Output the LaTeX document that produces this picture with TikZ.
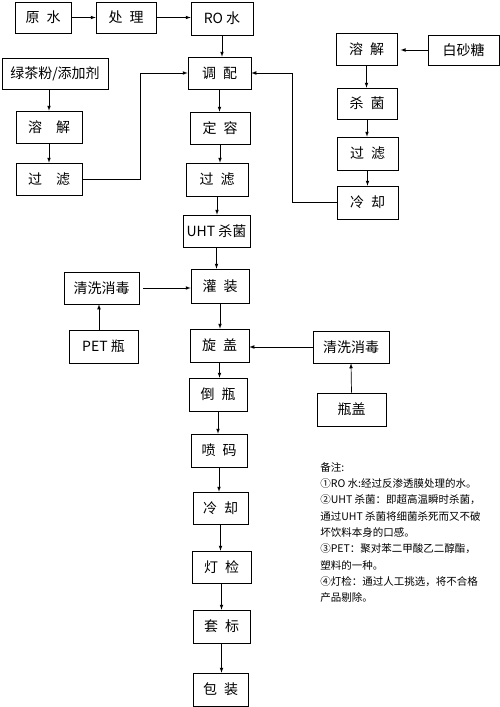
\documentclass[tikz,border=0pt]{standalone}
\usepackage{fontspec}
\setmainfont{Noto Sans CJK SC}
\usepackage{tikz}

\newcommand{\cjkgap}{\hspace{.5em}}

\begin{document}
\begin{tikzpicture}[x=1pt, y=-1pt, >=latex, line width=0.7pt,
    box/.style 2 args={draw, minimum width=#1, minimum height=#2, inner sep=0pt,
        font=\fontsize{14}{16}\selectfont},
    note/.style={anchor=north west, inner sep=0pt, align=left,
        font=\fontsize{10.5}{16.3}\selectfont}]
    \useasboundingbox (0,0) rectangle (500,707);

    % water line
    \node[box={56}{31}] (yuanshui) at (43, 17.5) {原\cjkgap 水};
    \node[box={60}{31}] (chuli) at (126, 17.5) {处\cjkgap 理};
    \node[box={62}{33}] (ro) at (222, 18.5) {RO 水};

    % main line
    \node[box={63}{32}] (tiaopei) at (219.5, 73) {调\cjkgap 配};
    \node[box={60}{32}] (dingrong) at (220, 128) {定\cjkgap 容};
    \node[box={62}{33}] (guolv) at (217, 179.5) {过\cjkgap 滤};
    \node[box={67}{32}] (uht) at (216.5, 231) {UHT 杀菌};
    \node[box={58}{34}] (guanzhuang) at (220, 286) {灌\cjkgap 装};
    \node[box={59}{33}] (xuangai) at (219.5, 345.5) {旋\cjkgap 盖};
    \node[box={58}{33}] (daoping) at (218, 394.5) {倒\cjkgap 瓶};
    \node[box={56}{33}] (penma) at (219, 450.5) {喷\cjkgap 码};
    \node[box={55}{32}] (lengque) at (220.5, 508) {冷\cjkgap 却};
    \node[box={59}{32}] (dengjian) at (221.5, 567) {灯\cjkgap 检};
    \node[box={57}{33}] (taobiao) at (221.5, 626.5) {套\cjkgap 标};
    \node[box={55}{33}] (baozhuang) at (220.5, 689.5) {包\cjkgap 装};

    % tea powder line
    \node[box={106}{31}] (lvcha) at (55, 73.5) {绿茶粉/添加剂};
    \node[box={66}{32}] (rongjieL) at (49, 127) {溶\hspace{1em}解};
    \node[box={66}{32}] (guolvL) at (49, 179) {过\hspace{1em}滤};

    % sugar line
    \node[box={71}{30}] (baisha) at (463.5, 50) {白砂糖};
    \node[box={61}{32}] (rongjieR) at (366.5, 49) {溶\cjkgap 解};
    \node[box={60}{31}] (shajunR) at (367, 103.5) {杀\cjkgap 菌};
    \node[box={61}{33}] (guolvR) at (367.5, 153.5) {过\cjkgap 滤};
    \node[box={61}{33}] (lengqueR) at (367.5, 202.5) {冷\cjkgap 却};

    % bottles and caps
    \node[box={75}{32}] (qingxiL) at (101.5, 288) {清洗消毒};
    \node[box={69}{33}] (pet) at (103.5, 346.5) {PET 瓶};
    \node[box={76}{32}] (qingxiR) at (351, 347) {清洗消毒};
    \node[box={69}{33}] (pinggai) at (351.5, 409.5) {瓶盖};

    % notes
    \node[note] (beizhu) at (320, 462) {备注:\\
        ①RO 水:经过反渗透膜处理的水。\\
        ②UHT 杀菌：即超高温瞬时杀菌，\\
        通过UHT 杀菌将细菌杀死而又不破\\
        坏饮料本身的口感。\\
        ③PET：聚对苯二甲酸乙二醇酯，\\
        塑料的一种。\\
        ④灯检：通过人工挑选，将不合格\\
        产品剔除。};

    % arrows
    \draw[->] (yuanshui) -- (chuli);
    \draw[->] (chuli) -- (chuli -| ro.west);
    \draw[->] (ro.south) -- (ro.south |- tiaopei.north);
    \draw[->] (tiaopei.south) -- (tiaopei.south |- dingrong.north);
    \draw[->] (dingrong.south) -- (dingrong.south |- guolv.north);
    \draw[->] (guolv.south) -- (guolv.south |- uht.north);
    \draw[->] (uht.south) -- (uht.south |- guanzhuang.north);
    \draw[->] (guanzhuang.south) -- (guanzhuang.south |- xuangai.north);
    \draw[->] (xuangai.south) -- (xuangai.south |- daoping.north);
    \draw[->] (daoping.south) -- (daoping.south |- penma.north);
    \draw[->] (penma.south) -- (penma.south |- lengque.north);
    \draw[->] (lengque.south) -- (lengque.south |- dengjian.north);
    \draw[->] (dengjian.south) -- (dengjian.south |- taobiao.north);
    \draw[->] (taobiao.south) -- (taobiao.south |- baozhuang.north);

    \draw[->] (rongjieL.north |- lvcha.south) -- (rongjieL.north);
    \draw[->] (rongjieL.south) -- (guolvL.north);
    \draw[->] (guolvL.east) -- ++(58, 0) |- (tiaopei.west);

    \draw[->] (baisha.west) -- ++(-27, 0);
    \draw[->] (rongjieR.south) -- (rongjieR.south |- shajunR.north);
    \draw[->] (shajunR.south) -- (shajunR.south |- guolvR.north);
    \draw[->] (guolvR.south) -- (guolvR.south |- lengqueR.north);
    \draw[->] (lengqueR.west) -- ++(-44, 0) |- (tiaopei.east);

    \draw[->] (pet.north -| 99, 0) -- (qingxiL.south -| 99, 0);
    \draw[->] (qingxiL.east) ++(4, 0) -- (qingxiL.east -| guanzhuang.west);
    \draw[->] (pinggai.north) -- (qingxiR.south);
    \draw[->] (qingxiR.west) -- (qingxiR.west -| xuangai.east);
\end{tikzpicture}
\end{document}
